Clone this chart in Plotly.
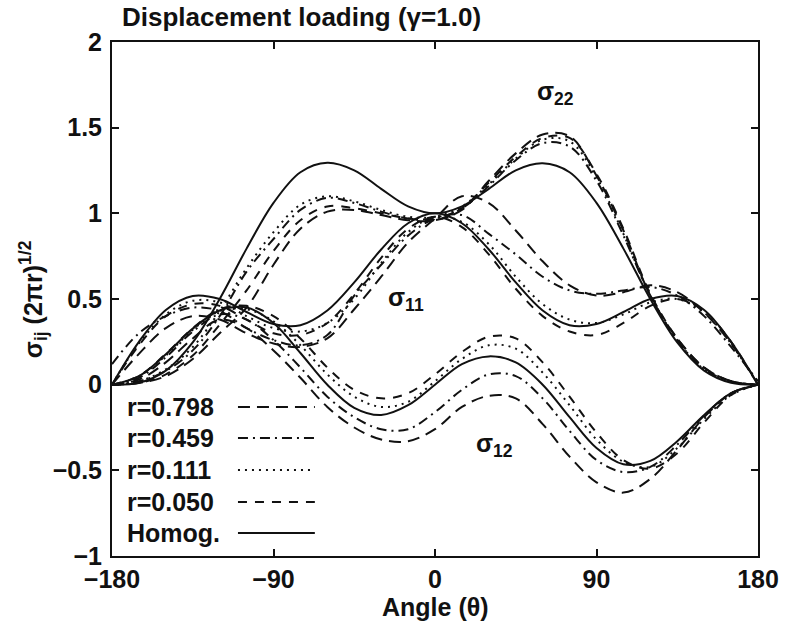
import plotly.graph_objects as go

# ---------------- data ----------------
theta = [-180, -165, -150, -135, -120, -105, -90, -75, -60, -45, -30, -15, 0,
         15, 30, 45, 60, 75, 90, 105, 120, 135, 150, 165, 180]

# Homogeneous field
homog_s11 = [0.0, 0.25, 0.436, 0.518, 0.50, 0.424, 0.354, 0.347, 0.433, 0.597, 0.789, 0.942, 1.0,
             0.942, 0.789, 0.597, 0.433, 0.347, 0.354, 0.424, 0.50, 0.518, 0.436, 0.25, 0.0]
homog_s22 = [0.0, 0.011, 0.082, 0.247, 0.50, 0.794, 1.061, 1.240, 1.295, 1.251, 1.143, 1.041, 1.0,
             1.041, 1.143, 1.251, 1.292, 1.240, 1.061, 0.794, 0.50, 0.247, 0.082, 0.011, 0.0]
homog_s12 = [0.0, 0.05, 0.177, 0.327, 0.433, 0.450, 0.360, 0.185, 0.0, -0.135, -0.177, -0.12, 0.0,
             0.12, 0.165, 0.13, 0.0, -0.19, -0.37, -0.465, -0.445, -0.33, -0.177, -0.05, 0.0]

# r = 0.798
r798_s11 = [0.0, 0.18, 0.33, 0.40, 0.38, 0.30, 0.24, 0.22, 0.27, 0.44, 0.63, 0.83, 0.97,
            1.10, 1.06, 0.90, 0.72, 0.58, 0.52, 0.54, 0.58, 0.54, 0.42, 0.24, 0.0]
r798_s22 = [0.0, 0.01, 0.05, 0.15, 0.30, 0.45, 0.70, 0.91, 1.01, 1.02, 0.99, 0.96, 0.96,
            1.02, 1.19, 1.35, 1.46, 1.45, 1.22, 0.90, 0.52, 0.27, 0.10, 0.02, 0.0]
r798_s12 = [0.0, 0.03, 0.13, 0.27, 0.38, 0.33, 0.20, 0.04, -0.13, -0.25, -0.32, -0.33, -0.26,
            -0.13, -0.065, -0.08, -0.23, -0.42, -0.57, -0.63, -0.55, -0.38, -0.19, -0.05, 0.0]

# r = 0.459
r459_s11 = [0.12, 0.30, 0.40, 0.45, 0.43, 0.33, 0.26, 0.23, 0.29, 0.52, 0.70, 0.87, 0.97,
            0.99, 0.88, 0.76, 0.63, 0.55, 0.53, 0.55, 0.57, 0.52, 0.40, 0.22, 0.02]
r459_s22 = [0.0, 0.02, 0.08, 0.20, 0.40, 0.66, 0.85, 1.02, 1.09, 1.06, 1.01, 0.97, 0.97,
            1.03, 1.16, 1.31, 1.41, 1.39, 1.19, 0.87, 0.52, 0.26, 0.09, 0.02, 0.0]
r459_s12 = [0.0, 0.04, 0.16, 0.31, 0.41, 0.38, 0.26, 0.10, -0.07, -0.19, -0.26, -0.26, -0.16,
            -0.03, 0.06, 0.05, -0.08, -0.27, -0.44, -0.51, -0.48, -0.35, -0.18, -0.05, 0.0]

# r = 0.111
r111_s11 = [0.0, 0.24, 0.41, 0.49, 0.48, 0.40, 0.33, 0.31, 0.36, 0.50, 0.71, 0.89, 0.98,
            0.95, 0.82, 0.63, 0.47, 0.38, 0.36, 0.41, 0.48, 0.50, 0.42, 0.24, 0.0]
r111_s22 = [0.0, 0.02, 0.09, 0.22, 0.43, 0.68, 0.89, 1.05, 1.10, 1.07, 1.02, 0.98, 0.98,
            1.04, 1.17, 1.32, 1.43, 1.42, 1.21, 0.88, 0.52, 0.26, 0.09, 0.02, 0.0]
r111_s12 = [0.0, 0.05, 0.17, 0.32, 0.43, 0.44, 0.37, 0.23, 0.06, -0.07, -0.13, -0.10, 0.02,
            0.15, 0.23, 0.21, 0.07, -0.12, -0.32, -0.45, -0.48, -0.37, -0.20, -0.06, 0.0]

# r = 0.050
r050_s11 = [0.0, 0.23, 0.40, 0.47, 0.46, 0.38, 0.30, 0.29, 0.36, 0.53, 0.74, 0.91, 0.98,
            0.92, 0.76, 0.56, 0.40, 0.31, 0.29, 0.36, 0.46, 0.50, 0.43, 0.25, 0.0]
r050_s22 = [0.0, 0.01, 0.06, 0.17, 0.35, 0.55, 0.78, 0.96, 1.04, 1.03, 1.00, 0.97, 0.96,
            1.03, 1.18, 1.33, 1.44, 1.44, 1.23, 0.91, 0.53, 0.27, 0.10, 0.02, 0.0]
r050_s12 = [0.0, 0.05, 0.18, 0.33, 0.44, 0.46, 0.40, 0.27, 0.10, -0.03, -0.08, -0.05, 0.06,
            0.19, 0.28, 0.27, 0.13, -0.07, -0.28, -0.44, -0.49, -0.40, -0.22, -0.06, 0.0]

series_names = ["r=0.798", "r=0.459", "r=0.111", "r=0.050", "Homog."]
x_ticks = [-180, -90, 0, 90, 180]
y_ticks = [-1, -0.5, 0, 0.5, 1, 1.5, 2]

# ---------------- styles ----------------
INK = "#111111"
FONT = "Liberation Sans"
dash_styles = {
    "r=0.798": "12px,7px",
    "r=0.459": "10px,5px,2px,5px",
    "r=0.111": "2px,5px",
    "r=0.050": "9px,8px",
    "Homog.": "solid",
}
series_data = {
    "r=0.798": (r798_s11, r798_s22, r798_s12),
    "r=0.459": (r459_s11, r459_s22, r459_s12),
    "r=0.111": (r111_s11, r111_s22, r111_s12),
    "r=0.050": (r050_s11, r050_s22, r050_s12),
    "Homog.": (homog_s11, homog_s22, homog_s12),
}

fig = go.Figure()
for name in series_names:
    for comp, vals in zip(["s11", "s22", "s12"], series_data[name]):
        fig.add_trace(go.Scatter(
            x=theta, y=vals, mode="lines", name=name + " " + comp,
            line=dict(color=INK, width=2, dash=dash_styles[name],
                      shape="spline", smoothing=1.0),
            showlegend=False, hoverinfo="skip"))

axis_common = dict(
    showline=True, linecolor=INK, linewidth=2, mirror="ticks",
    ticks="inside", ticklen=7, tickwidth=1.5, tickcolor=INK,
    showgrid=False, zeroline=False,
    tickfont=dict(family=FONT, size=25, color=INK, weight="bold"),
)

fig.update_layout(
    width=791, height=624,
    margin=dict(l=112, r=23, t=42, b=68),
    paper_bgcolor="white", plot_bgcolor="white",
    xaxis=dict(range=[-180, 180], tickvals=x_ticks, ticklabelstandoff=0, **axis_common),
    yaxis=dict(range=[-1, 2], tickvals=y_ticks, ticklabelstandoff=3, **axis_common),
    showlegend=False,
)

txt = dict(family=FONT, size=25, color=INK, weight="bold")
ann = []
ann.append(dict(text="Displacement loading (γ=1.0)", xref="paper", yref="paper",
                x=0.012, y=1.049, xanchor="left", yanchor="middle",
                showarrow=False, font=dict(family=FONT, size=26, color=INK, weight="bold")))
ann.append(dict(text="Angle (θ)", xref="paper", yref="paper", x=0.5, y=-0.1,
                xanchor="center", yanchor="middle", showarrow=False, font=txt))
ann.append(dict(text="σ<sub>ij</sub> (2πr)<sup>1/2</sup>", xref="paper", yref="paper",
                x=-0.122, y=0.5, xanchor="center", yanchor="middle", textangle=-90,
                showarrow=False, font=txt))
# component labels
for label, lx, ly in [("σ<sub>22</sub>", 67, 1.70), ("σ<sub>11</sub>", -16, 0.50),
                      ("σ<sub>12</sub>", 33, -0.35)]:
    ann.append(dict(text=label, xref="x", yref="y", x=lx, y=ly, xanchor="center",
                    yanchor="middle", showarrow=False, font=txt))

# hand-made legend (label on the left, line sample on the right)
leg_rows_y = [0.290, 0.2296, 0.1673, 0.105, 0.0447]
leg_text_x = 0.0198
leg_line_x = (0.195, 0.314)
shapes = []
for name, ry in zip(series_names, leg_rows_y):
    ann.append(dict(text=name, xref="paper", yref="paper", x=leg_text_x, y=ry,
                    xanchor="left", yanchor="middle", showarrow=False, font=txt))
    shapes.append(dict(type="line", xref="paper", yref="paper",
                       x0=leg_line_x[0], x1=leg_line_x[1], y0=ry, y1=ry,
                       line=dict(color=INK, width=2, dash=dash_styles[name])))

fig.update_layout(annotations=ann, shapes=shapes)
fig.write_html("out.html")
